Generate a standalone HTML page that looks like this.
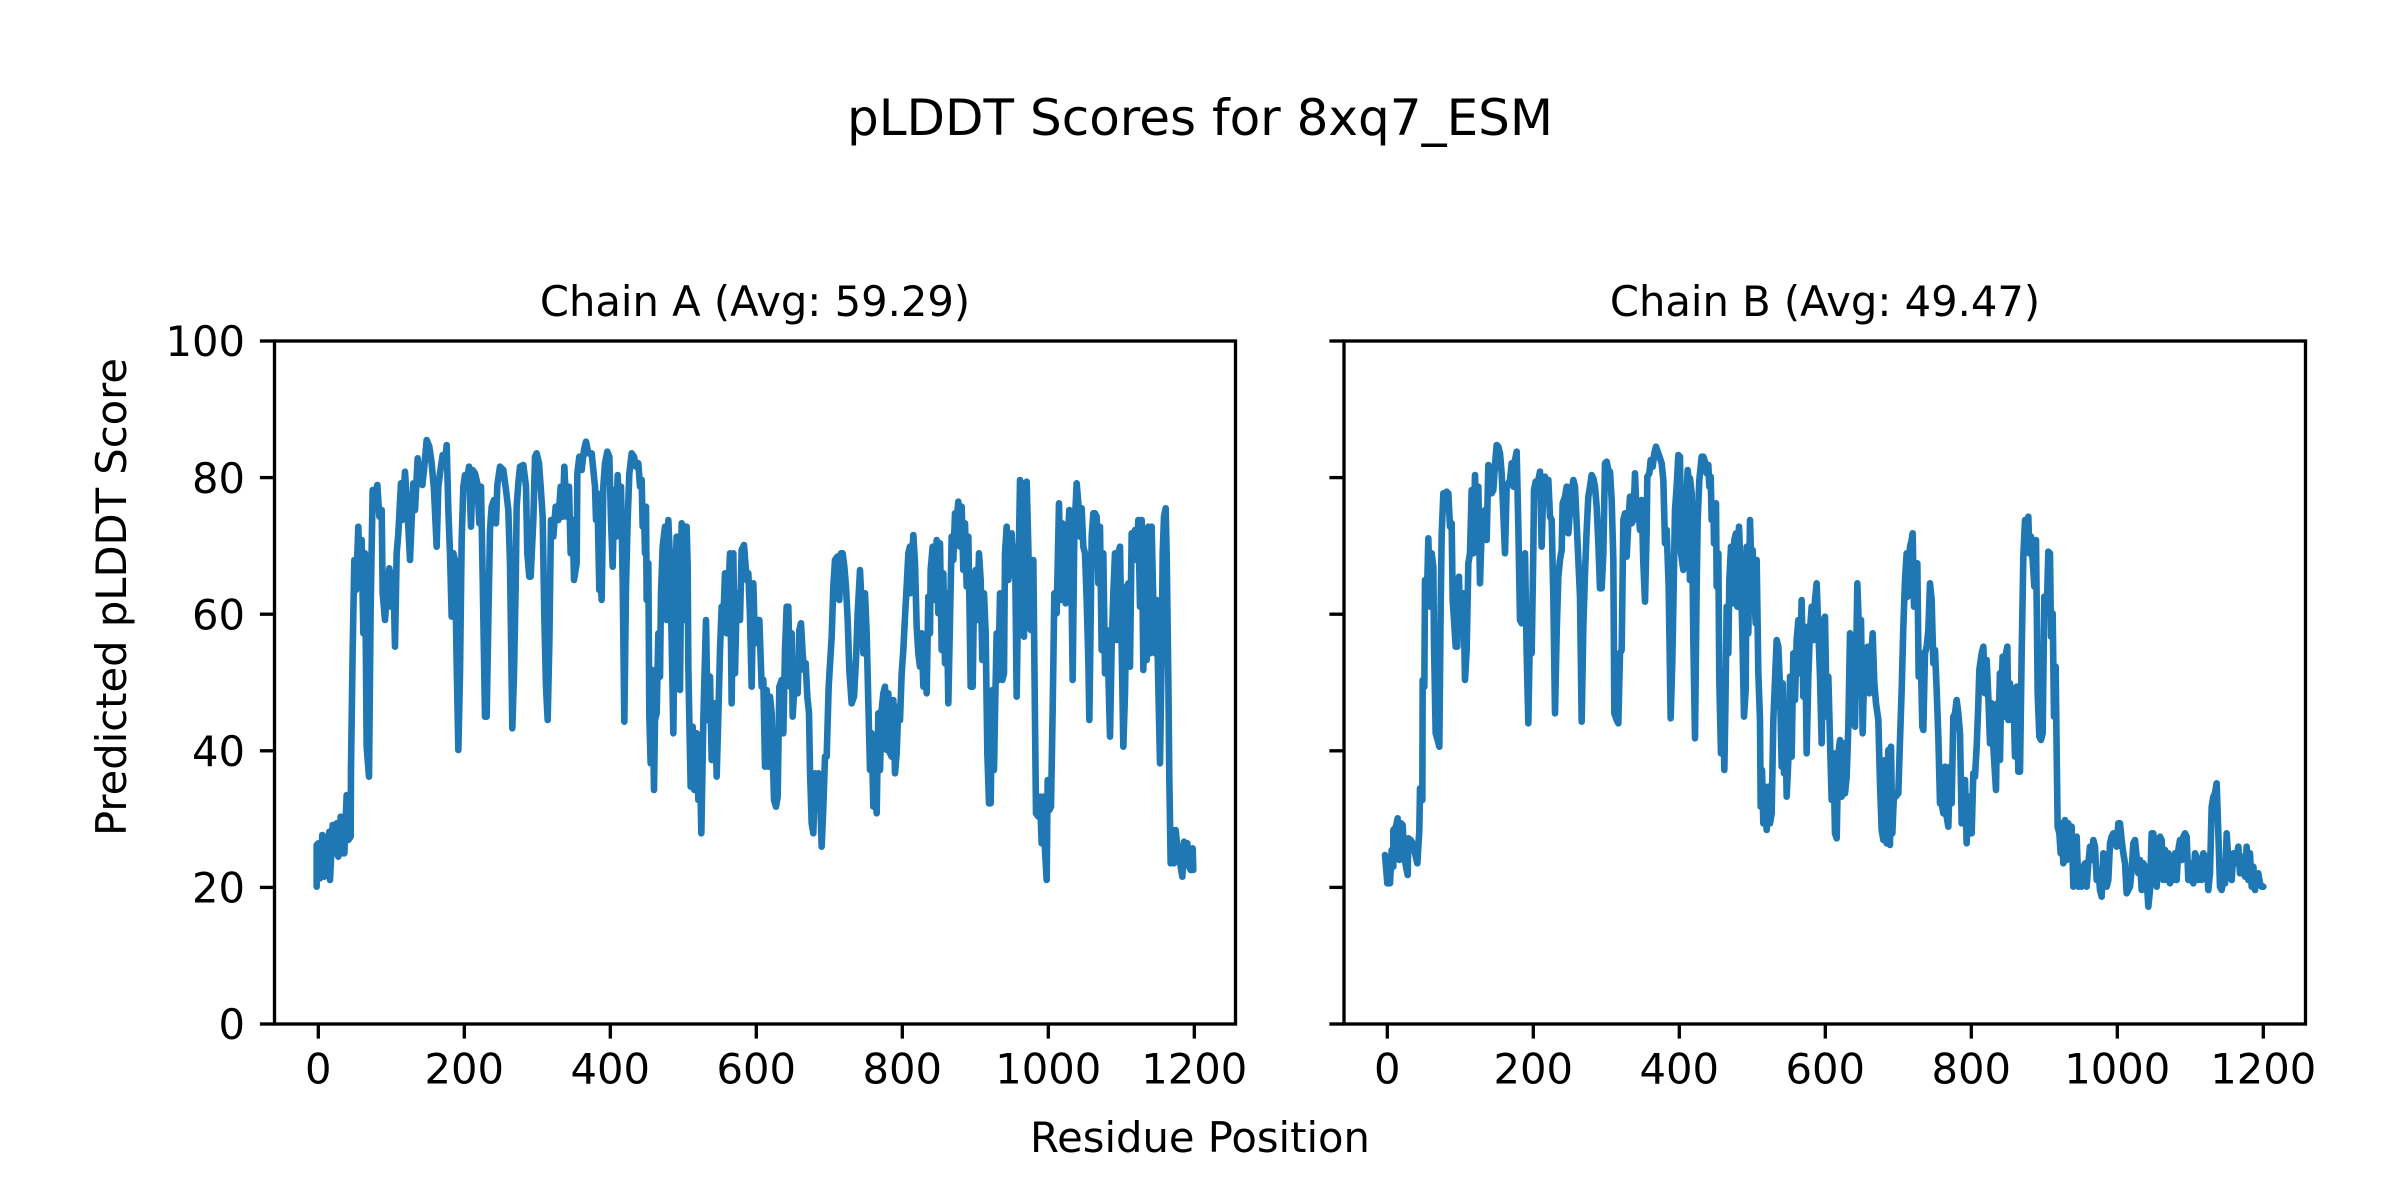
<!DOCTYPE html>
<html><head><meta charset="utf-8"><style>
html,body{margin:0;padding:0;background:#fff;}
svg{display:block;}
text{font-family:"DejaVu Sans","Liberation Sans",sans-serif;fill:#000;}
.ln{fill:none;stroke:#1f77b4;stroke-width:6.6;stroke-linejoin:round;stroke-linecap:round;}
</style></head><body>
<svg width="2400" height="1200" viewBox="0 0 2400 1200" xmlns="http://www.w3.org/2000/svg">
<rect width="2400" height="1200" fill="#fff"/>
<text x="1200" y="135" font-size="50" text-anchor="middle">pLDDT Scores for 8xq7_ESM</text>
<text x="755" y="316" font-size="41.67" text-anchor="middle">Chain A (Avg: 59.29)</text>
<text x="1825" y="316" font-size="41.67" text-anchor="middle">Chain B (Avg: 49.47)</text>
<text x="1200" y="1152" font-size="41.67" text-anchor="middle">Residue Position</text>
<text x="0" y="0" font-size="41.67" text-anchor="middle" transform="translate(126 597) rotate(-90)">Predicted pLDDT Score</text>

<!-- Chain A data -->
<g transform="translate(290 420) scale(0.333333)">
<polyline class="ln" vector-effect="non-scaling-stroke" points="80,1400 80,1275 85,1270 90,1375 97,1245 103,1370 110,1290 118,1235 120,1380 128,1215 135,1300 140,1210 145,1310 152,1190 158,1300 163,1300 170,1125 175,1260 182,1250 183,1040 188,690 193,420 198,510 205,320 210,490 215,360 220,640 225,400 230,980 237,1070 242,560 248,210 255,230 262,195 268,290 275,270 278,520 285,600 292,500 298,445 303,560 310,460 315,680 320,400 325,340 333,190 337,300 345,155 350,240 355,320 360,420 365,300 370,190 375,270 383,115 390,180 397,195 403,140 410,60 418,80 425,130 432,210 440,380 445,200 450,160 458,105 465,130 470,75 475,270 480,400 485,590 490,400 495,420 500,730 505,990 510,760 515,360 520,200 525,165 530,190 537,140 543,320 548,150 555,160 562,190 568,310 573,200 578,470 585,890 590,890 595,600 600,330 605,260 612,240 618,310 622,195 630,140 640,150 648,210 655,270 660,430 667,925 672,760 677,500 680,260 685,190 690,140 700,135 708,200 712,400 718,470 722,470 730,300 735,110 740,100 747,130 752,200 758,290 763,590 768,800 773,900 778,670 783,300 790,350 797,260 805,300 812,200 818,290 823,140 830,290 837,200 842,400 848,300 852,480 860,430 862,160 868,110 875,150 882,90 888,65 895,100 905,100 910,150 915,200 918,300 922,220 928,510 930,400"/>
</g>
<g transform="translate(600 420) scale(0.333333)">
<polyline class="ln" vector-effect="non-scaling-stroke" points="0,400 5,540 10,200 15,130 22,95 28,110 33,300 38,440 43,210 48,350 53,165 58,280 63,200 68,480 73,905 78,500 83,300 88,160 95,100 102,110 108,140 115,130 120,200 125,180 128,320 132,270 135,400 138,260 140,540 145,430 148,890 152,1030 157,750 162,1110 165,900 170,880 175,640 180,770 183,520 188,380 195,320 200,600 205,300 210,420 215,660 220,940 225,500 230,350 235,700 240,810 245,310 250,320 255,600 260,320 263,440 265,740 268,900 272,1100 278,920 283,1110 290,940 295,1140 298,945 304,1240 310,900 318,600 323,900 330,770 335,1020 340,900 345,850 350,1070 356,850 360,690 365,560 370,600 375,460 380,640 385,520 390,400 395,850 400,400 405,760 410,540 415,520 420,600 425,390 432,375 440,480 445,460 450,590 455,800 460,490 465,670 470,600 478,600 485,800 490,780 495,1040 500,810 505,1040 510,830 515,880 522,1140 528,1160 533,1130 538,800 545,780 550,940 555,690 560,560 565,560 570,800 575,640 578,890 583,800 588,750 593,820 598,630 603,610 608,700 612,750 617,730 622,830 627,880 630,1050 635,1210 640,1240 645,1060 650,1100 655,1060 660,1120 665,1280 670,1160 675,1010 680,1010 686,800 695,650 700,500 705,420 712,410 718,540 723,400 728,400 733,440 738,500 743,600 748,750 755,850 762,830 768,720 773,580 780,450 785,560 790,700 795,520 800,640 805,850 810,1050 815,940 820,1160 825,960 830,1180 835,880 840,1050 845,870 850,820 855,800 860,990 865,820 870,1000 875,1010 880,840 885,1060 890,1000 895,860 900,900 905,760 910,690 915,590 920,500 925,400 930,380"/>
</g>
<g transform="translate(910 420) scale(0.333333)">
<polyline class="ln" vector-effect="non-scaling-stroke" points="0,380 0,520 5,440 10,345 15,430 20,620 25,700 30,740 35,640 40,800 45,730 50,820 55,530 60,640 62,450 68,380 75,540 80,360 85,580 90,370 95,690 100,460 105,730 110,520 115,850 120,600 125,350 130,420 135,280 140,300 145,245 150,380 155,260 160,450 165,310 170,500 175,350 178,530 182,800 188,800 192,530 197,450 202,600 207,400 212,480 217,720 222,520 227,640 232,1000 237,1150 242,1150 247,810 252,1050 255,880 260,640 265,780 270,520 277,780 282,760 285,400 290,320 295,480 300,440 305,340 310,460 315,380 320,830 325,490 330,180 335,430 338,640 342,650 345,190 350,185 355,380 358,600 362,630 367,560 370,420 375,900 378,1180 385,1190 390,1130 395,1270 400,1130 405,1290 410,1380 413,1080 418,1170 423,1160 428,870 433,520 440,580 447,250 452,540 457,310 462,480 467,550 472,380 478,270 483,380 488,780 493,340 500,190 505,250 510,350 515,265 520,380 525,400 530,540 535,720 538,900 542,600 545,350 550,280 555,280 560,290 565,490 570,320 575,690 580,400 585,760 590,630 595,760 600,950 605,680 610,520 615,400 620,660 625,400 630,380 635,680 640,980 645,820 650,500 655,490 660,740 665,340 670,360 675,330 680,420 685,300 690,560 695,300 700,750 705,450 710,720 715,320 720,700 725,320 730,550 735,700 740,540 745,800 750,1030 755,700 758,400 762,290 767,265 770,400 775,780 778,1080 782,1330 787,1230 792,1330 797,1230 802,1280 807,1280 812,1340 817,1370 822,1265 827,1330 832,1270 837,1340 842,1350 848,1285 850,1350"/>
</g>

<!-- Chain B data -->
<g transform="translate(1380 420) scale(0.333333)">
<polyline class="ln" vector-effect="non-scaling-stroke" points="15,1305 22,1390 30,1390 35,1290 40,1340 40,1230 48,1220 53,1195 58,1320 63,1210 68,1215 72,1300 78,1340 83,1365 85,1255 92,1260 98,1270 105,1300 112,1330 118,1230 120,1105 127,1140 128,780 133,800 135,480 140,560 145,355 150,560 155,400 160,440 162,670 167,940 173,960 178,980 182,560 185,345 190,220 195,230 200,215 205,220 210,320 215,310 218,540 222,600 227,680 232,680 237,470 240,620 245,550 250,520 255,780 260,690 265,430 270,400 275,210 280,400 285,165 290,350 295,200 300,490 305,330 310,330 315,270 320,360 325,135 330,140 335,220 340,210 345,135 350,75 355,80 360,100 365,160 370,280 375,400 380,200 385,190 390,180 395,130 400,200 405,120 410,95 415,320 420,600 425,610 430,420 435,400 440,700 445,910 450,620 455,700 460,390 462,210 467,185 473,190 480,155 485,380 490,200 495,170 500,200 505,180 510,290 515,300 520,530 525,880 530,640 535,470 540,420 545,390 548,250 555,230 560,200 565,340 570,270 575,210 580,180 585,200 590,310 595,420 600,530 605,905 610,620 615,460 620,330 625,230 630,200 635,165 640,175 645,200 650,260 655,370 660,505 665,505 670,400 675,130 680,125 685,150 690,155 695,240 700,420 703,880 710,900 715,910 720,700 725,690 730,300 735,280 740,410 745,310 750,230 755,310 760,300 765,160 770,290 775,260 780,330 785,240 790,430 795,545 800,330 802,170 808,160 812,120 818,140 823,100 828,80 835,100 845,130 850,180 855,370 860,330 866,500 872,895 877,720 880,560 885,270 890,200 895,105 900,110 903,400 910,450 913,240 918,250 923,150 928,200 930,480"/>
</g>
<g transform="translate(1690 420) scale(0.333333)">
<polyline class="ln" vector-effect="non-scaling-stroke" points="0,480 0,175 5,220 10,660 15,955 20,500 23,300 28,180 35,110 40,110 45,125 50,160 55,135 58,200 62,170 65,300 70,250 72,370 78,250 80,500 85,400 88,790 93,1000 98,820 103,1050 106,870 110,560 115,700 118,480 123,380 128,550 133,360 138,340 142,560 147,320 152,450 157,640 162,890 167,810 170,380 175,640 180,300 185,470 188,390 192,500 197,610 200,420 205,760 210,900 212,1160 216,1050 220,1210 225,1100 230,1230 235,1100 240,1210 245,1180 250,900 255,780 260,660 265,680 270,800 275,1040 278,790 282,1060 286,880 290,1130 295,1020 300,770 305,1010 310,700 315,840 320,660 325,600 330,760 335,540 340,830 345,620 350,1000 355,770 360,630 365,560 370,660 375,540 380,490 385,630 390,770 395,970 400,600 405,590 410,890 415,770 420,960 425,1140 430,1000 435,1240 440,1255 445,1000 450,960 455,1130 460,970 465,1120 470,1070 475,920 480,640 485,650 490,900 495,920 502,490 508,660 513,600 518,940 523,740 528,700 533,680 538,820 543,730 548,640 553,790 558,850 565,900 570,1090 575,1230 580,1260 585,1020 590,1270 595,990 600,1275 603,980 607,1240 612,1120 617,1130 625,1120 630,960 635,810 640,620 645,480 650,400 653,530 660,380 665,360 668,340 672,560 677,430 682,430 686,770 692,700 697,920 700,930 705,700 710,680 715,630 720,490 725,540 730,730 735,690 740,810 745,950 750,1150 755,1150 760,1180 765,1040 770,1190 775,1220 780,1040 785,1150 790,890 795,880 800,840 805,880 810,940 815,1210 820,1090 825,1080 830,1270 835,1130 840,1230 845,1240 850,1060 855,1070 860,980 865,850 868,750 875,700 880,680 885,820 890,720 895,830 900,970 905,850 910,980 913,1030 918,1110 922,850 926,900 930,760"/>
</g>
<g transform="translate(2000 420) scale(0.333333)">
<polyline class="ln" vector-effect="non-scaling-stroke" points="0,760 0,1020 3,850 8,710 13,890 18,700 22,680 25,900 30,790 35,900 40,820 45,1010 50,800 55,1055 60,1055 65,700 70,410 75,300 80,310 85,290 88,400 93,350 98,420 103,500 108,360 113,820 118,950 123,960 128,940 133,530 138,560 140,580 145,395 150,400 153,650 158,580 162,890 167,740 170,1000 173,1220 178,1240 182,1300 185,1210 190,1330 195,1200 200,1320 205,1210 210,1300 215,1220 220,1400 225,1310 230,1250 235,1400 240,1380 245,1400 250,1340 255,1330 260,1400 265,1330 270,1280 275,1320 280,1260 285,1280 290,1380 295,1350 300,1410 305,1430 310,1300 315,1330 320,1400 325,1380 330,1270 335,1250 340,1240 345,1270 350,1280 355,1210 360,1210 365,1260 370,1300 375,1330 380,1420 385,1410 390,1400 395,1350 400,1270 405,1260 410,1310 415,1360 420,1320 425,1410 430,1330 435,1340 440,1380 445,1460 450,1410 455,1240 460,1240 465,1360 470,1400 475,1330 480,1250 485,1260 490,1380 495,1290 500,1380 505,1300 510,1390 515,1310 520,1380 525,1300 530,1380 535,1290 540,1260 545,1320 550,1250 555,1240 560,1250 565,1380 570,1330 575,1380 580,1390 585,1300 590,1310 595,1380 600,1320 605,1380 610,1300 615,1310 620,1340 625,1410 630,1360 635,1160 640,1130 645,1120 650,1090 655,1240 660,1400 665,1410 670,1380 675,1390 680,1240 685,1320 690,1370 695,1380 700,1300 705,1330 710,1310 715,1280 720,1360 725,1320 730,1310 735,1370 740,1280 745,1380 750,1300 755,1400 760,1340 765,1410 770,1370 775,1360 780,1390 785,1400 790,1400"/>
</g>

<!-- Axes frames -->
<g fill="none" stroke="#000" stroke-width="3.33" stroke-linecap="square">
<rect x="274.5" y="341" width="961" height="683"/>
<rect x="1344" y="341" width="961.5" height="683"/>
</g>

<!-- Y ticks -->
<g stroke="#000" stroke-width="3.33">
<line x1="259.9" y1="1024" x2="274.5" y2="1024"/>
<line x1="259.9" y1="887.4" x2="274.5" y2="887.4"/>
<line x1="259.9" y1="750.8" x2="274.5" y2="750.8"/>
<line x1="259.9" y1="614.2" x2="274.5" y2="614.2"/>
<line x1="259.9" y1="477.6" x2="274.5" y2="477.6"/>
<line x1="259.9" y1="341" x2="274.5" y2="341"/>
<line x1="1329.4" y1="1024" x2="1344" y2="1024"/>
<line x1="1329.4" y1="887.4" x2="1344" y2="887.4"/>
<line x1="1329.4" y1="750.8" x2="1344" y2="750.8"/>
<line x1="1329.4" y1="614.2" x2="1344" y2="614.2"/>
<line x1="1329.4" y1="477.6" x2="1344" y2="477.6"/>
<line x1="1329.4" y1="341" x2="1344" y2="341"/>
</g>
<g font-size="41.67" text-anchor="end">
<text x="245" y="1039.2">0</text>
<text x="245" y="902.6">20</text>
<text x="245" y="766">40</text>
<text x="245" y="629.4">60</text>
<text x="245" y="492.8">80</text>
<text x="245" y="356.2">100</text>
</g>

<!-- X ticks -->
<g stroke="#000" stroke-width="3.33">
<line x1="318.3" y1="1024" x2="318.3" y2="1038.6"/>
<line x1="464.3" y1="1024" x2="464.3" y2="1038.6"/>
<line x1="610.3" y1="1024" x2="610.3" y2="1038.6"/>
<line x1="756.3" y1="1024" x2="756.3" y2="1038.6"/>
<line x1="902.3" y1="1024" x2="902.3" y2="1038.6"/>
<line x1="1048.3" y1="1024" x2="1048.3" y2="1038.6"/>
<line x1="1194.3" y1="1024" x2="1194.3" y2="1038.6"/>
<line x1="1387.3" y1="1024" x2="1387.3" y2="1038.6"/>
<line x1="1533.3" y1="1024" x2="1533.3" y2="1038.6"/>
<line x1="1679.3" y1="1024" x2="1679.3" y2="1038.6"/>
<line x1="1825.3" y1="1024" x2="1825.3" y2="1038.6"/>
<line x1="1971.3" y1="1024" x2="1971.3" y2="1038.6"/>
<line x1="2117.3" y1="1024" x2="2117.3" y2="1038.6"/>
<line x1="2263.3" y1="1024" x2="2263.3" y2="1038.6"/>
</g>
<g font-size="41.67" text-anchor="middle">
<text x="318.3" y="1083.5">0</text>
<text x="464.3" y="1083.5">200</text>
<text x="610.3" y="1083.5">400</text>
<text x="756.3" y="1083.5">600</text>
<text x="902.3" y="1083.5">800</text>
<text x="1048.3" y="1083.5">1000</text>
<text x="1194.3" y="1083.5">1200</text>
<text x="1387.3" y="1083.5">0</text>
<text x="1533.3" y="1083.5">200</text>
<text x="1679.3" y="1083.5">400</text>
<text x="1825.3" y="1083.5">600</text>
<text x="1971.3" y="1083.5">800</text>
<text x="2117.3" y="1083.5">1000</text>
<text x="2263.3" y="1083.5">1200</text>
</g>
</svg>
</body></html>
